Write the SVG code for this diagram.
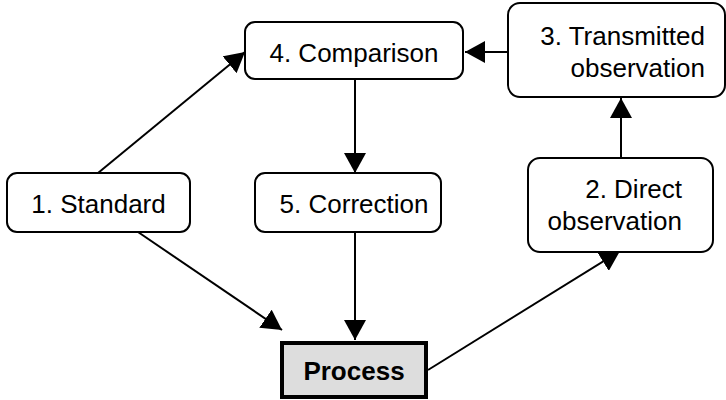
<svg xmlns="http://www.w3.org/2000/svg" width="726" height="400" viewBox="0 0 726 400">
  <style>
    .box { fill: #ffffff; stroke: #000000; stroke-width: 2; }
    .proc { fill: #dddddd; stroke: #000000; stroke-width: 4; }
    .lbl { font-family: "Liberation Sans", Arial, sans-serif; font-size: 26px; fill: #000000; }
    .bold { font-weight: bold; }
    .edge { fill: none; stroke: #000000; stroke-width: 2; marker-end: url(#head); }
  </style>
  <defs>
    <marker id="head" markerUnits="userSpaceOnUse" markerWidth="20" markerHeight="22" refX="20" refY="11" orient="auto" viewBox="0 0 20 22">
      <path d="M0,0 L20,11 L0,22 z" fill="#000000"/>
    </marker>
  </defs>

  <rect width="726" height="400" fill="#ffffff"/>

  <!-- connectors are drawn first so the boxes sit on top of them -->
  <g id="connectors">
    <line class="edge" x1="98" y1="173" x2="245" y2="52"/>
    <line class="edge" x1="508" y1="52" x2="465" y2="52"/>
    <line class="edge" x1="355" y1="79" x2="355" y2="173"/>
    <line class="edge" x1="355" y1="232" x2="355" y2="340"/>
    <line class="edge" x1="138" y1="232" x2="282" y2="330"/>
    <line class="edge" x1="428" y1="370" x2="620" y2="251"/>
    <line class="edge" x1="621" y1="158" x2="621" y2="98"/>
  </g>

  <g id="standard">
    <rect class="box" x="7" y="173" width="183" height="59" rx="10"/>
    <text class="lbl" x="98.5" y="213" text-anchor="middle">1. Standard</text>
  </g>

  <g id="direct-observation">
    <rect class="box" x="528" y="158" width="185" height="94" rx="12"/>
    <text class="lbl" x="682" y="198" text-anchor="end">2. Direct</text>
    <text class="lbl" x="682" y="230" text-anchor="end">observation</text>
  </g>

  <g id="transmitted-observation">
    <rect class="box" x="508" y="3" width="217" height="94" rx="12"/>
    <text class="lbl" x="705" y="45" text-anchor="end">3. Transmitted</text>
    <text class="lbl" x="705" y="77" text-anchor="end">observation</text>
  </g>

  <g id="comparison">
    <rect class="box" x="245" y="22" width="218" height="57" rx="10"/>
    <text class="lbl" x="354" y="62" text-anchor="middle">4. Comparison</text>
  </g>

  <g id="correction">
    <rect class="box" x="255" y="173" width="186" height="59" rx="10"/>
    <text class="lbl" x="354" y="213" text-anchor="middle">5. Correction</text>
  </g>

  <g id="process">
    <rect class="proc" x="282" y="343" width="144" height="54"/>
    <text class="lbl bold" x="354" y="380" text-anchor="middle">Process</text>
  </g>
</svg>
